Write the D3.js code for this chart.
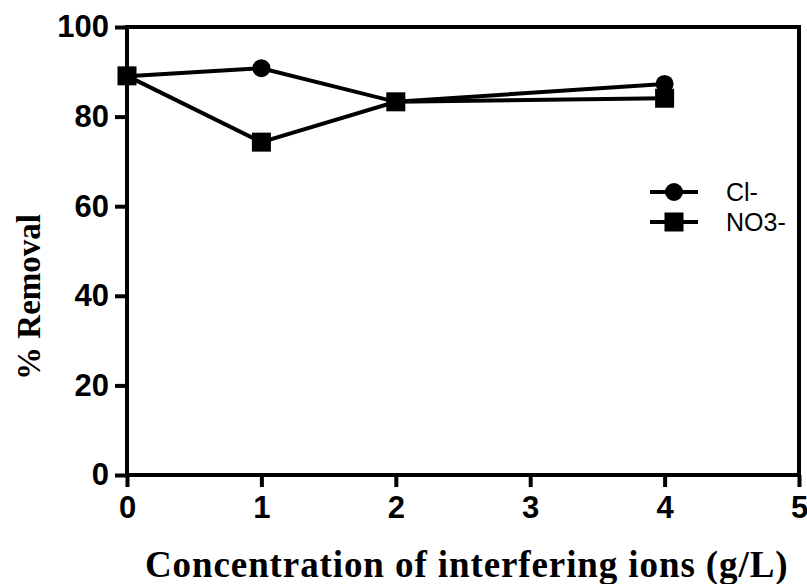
<!DOCTYPE html>
<html>
<head>
<meta charset="utf-8">
<script src="https://cdn.jsdelivr.net/npm/d3@7"></script>
<style>
  html, body { margin: 0; padding: 0; background: #fff; }
  svg { display: block; }
</style>
</head>
<body>
<div id="chart"></div>
<script>
// Interfering ion concentration (g/L) and % removal for each ion
const concentrations = [0, 1, 2, 4];
const chlorideRemoval = [89.0, 90.8, 83.3, 87.3];
const nitrateRemoval = [89.1, 74.3, 83.3, 84.1];
const seriesNames = ["Cl-", "NO3-"];
const xTicks = [0, 1, 2, 3, 4, 5];
const yTicks = [0, 20, 40, 60, 80, 100];

const width = 807, height = 584;
const margin = { left: 127, right: 8, top: 27, bottom: 109 };

const svg = d3.select("#chart").append("svg")
  .attr("width", width).attr("height", height);

const x = d3.scaleLinear().domain([0, 5]).range([margin.left, width - margin.right]);
const y = d3.scaleLinear().domain([0, 100]).range([height - margin.bottom, margin.top]);

const strokeW = 4;

// Axes
const xAxis = svg.append("g")
  .attr("transform", `translate(0,${y(0)})`)
  .call(d3.axisBottom(x).tickValues(xTicks).tickSize(12).tickPadding(9).tickFormat(d3.format("d")));
const yAxis = svg.append("g")
  .attr("transform", `translate(${x(0)},0)`)
  .call(d3.axisLeft(y).tickValues(yTicks).tickSize(12).tickPadding(6).tickFormat(d3.format("d")));

[xAxis, yAxis].forEach(g => {
  g.select(".domain").attr("stroke", "#000").attr("stroke-width", strokeW);
  g.selectAll(".tick line").attr("stroke", "#000").attr("stroke-width", strokeW);
  g.selectAll(".tick text")
    .attr("fill", "#000")
    .style("font-family", "'Liberation Sans', Arial, sans-serif")
    .style("font-weight", "bold")
    .style("font-size", "31px");
});
xAxis.select(".domain").attr("d", `M${x(0)},0H${x(5)}`);
yAxis.select(".domain").attr("d", `M0,${y(0)}V${y(100)}`);

// Top and right frame lines
svg.append("path")
  .attr("d", `M${x(0)},${y(100)}H${x(5)}V${y(0)}`)
  .attr("fill", "none").attr("stroke", "#000").attr("stroke-width", strokeW)
  .attr("stroke-linecap", "square");

// Series
const series = [
  { name: seriesNames[0], values: chlorideRemoval, shape: "circle" },
  { name: seriesNames[1], values: nitrateRemoval, shape: "square" }
];

const line = d3.line().x(d => x(d[0])).y(d => y(d[1]));

series.forEach(s => {
  const pts = concentrations.map((c, i) => [c, s.values[i]]);
  svg.append("path")
    .datum(pts)
    .attr("d", line)
    .attr("fill", "none").attr("stroke", "#000").attr("stroke-width", strokeW);
});

function drawMarker(g, shape, cx, cy) {
  if (shape === "circle") {
    g.append("circle").attr("cx", cx).attr("cy", cy).attr("r", 9).attr("fill", "#000");
  } else {
    g.append("rect").attr("x", cx - 9.5).attr("y", cy - 9.5).attr("width", 19).attr("height", 19).attr("fill", "#000");
  }
}

// Markers: circles first, squares on top
series.forEach(s => {
  const g = svg.append("g");
  concentrations.forEach((c, i) => drawMarker(g, s.shape, x(c), y(s.values[i])));
});

// Legend
const legend = svg.append("g");
series.forEach((s, i) => {
  const ly = 192 + i * 30;
  legend.append("line").attr("x1", 650).attr("x2", 698).attr("y1", ly).attr("y2", ly)
    .attr("stroke", "#000").attr("stroke-width", strokeW);
  drawMarker(legend, s.shape, 674, ly);
  legend.append("text").attr("x", 726).attr("y", ly + 9)
    .style("font-family", "'Liberation Sans', Arial, sans-serif")
    .style("font-size", "25px")
    .attr("fill", "#000")
    .text(s.name);
});

// Axis titles
svg.append("text")
  .attr("x", 145).attr("y", 577)
  .style("font-family", "'Liberation Serif', 'Times New Roman', serif")
  .style("font-weight", "bold")
  .style("font-size", "37px")
  .style("letter-spacing", "0.9px")
  .attr("fill", "#000")
  .text("Concentration of interfering ions (g/L)");

svg.append("text")
  .attr("transform", "translate(40,297) rotate(-90)")
  .attr("text-anchor", "middle")
  .style("font-family", "'Liberation Serif', 'Times New Roman', serif")
  .style("font-weight", "bold")
  .style("font-size", "33px")
  .attr("fill", "#000")
  .text("% Removal");
</script>
</body>
</html>
